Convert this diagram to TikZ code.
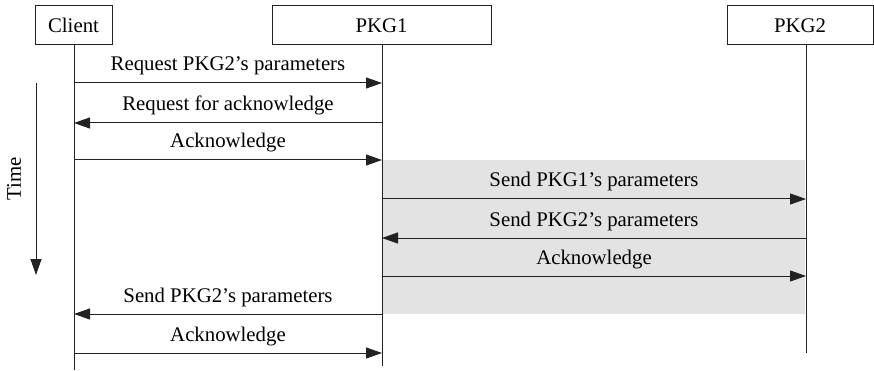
\documentclass[tikz,border=0pt]{standalone}
\usepackage{fontspec}
\setmainfont{Liberation Serif}
\usetikzlibrary{arrows.meta}
\definecolor{panelgray}{HTML}{E3E3E3}
\definecolor{ink}{HTML}{222222}
\begin{document}
\begin{tikzpicture}[x=1pt,y=-1pt,
  every node/.style={font=\fontsize{20.8}{24}\selectfont, text=black},
  actor/.style={draw=ink, line width=1pt, fill=white, inner sep=0pt},
  life/.style={draw=ink, line width=1pt},
  msg/.style={draw=ink, line width=1pt, -{Triangle[length=16pt,width=11pt]}},
  lbl/.style={inner sep=0pt, anchor=base}]
\useasboundingbox (0,0) rectangle (874,371);
% shaded region
\fill[panelgray] (382,160) rectangle (805,314);
% actor boxes
\draw[actor] (35,6) rectangle (112,45);
\node (client) at (73.5,25.5) {Client};
\draw[actor] (272,6) rectangle (491,45);
\node (pkg1) at (381.5,25.5) {PKG1};
\draw[actor] (727,6) rectangle (873,45);
\node (pkg2) at (800,25.5) {PKG2};
% lifelines
\coordinate (c0) at (74,45);   \coordinate (c1) at (74,370);
\coordinate (p0) at (382,45);  \coordinate (p1) at (382,366);
\coordinate (q0) at (806,45);  \coordinate (q1) at (806,353);
\draw[life] (c0) -- (c1);
\draw[life] (p0) -- (p1);
\draw[life] (q0) -- (q1);
% time arrow
\coordinate (t0) at (36,83); \coordinate (t1) at (36,275);
\draw[msg] (t0) -- (t1);
\node[rotate=90] (time) at (14,179) {Time};
% messages
\foreach \y/\from/\to/\txt/\cx in {
  83/74/382/{Request PKG2's parameters}/228,
  123/382/74/{Request for acknowledge}/228,
  160/74/382/{Acknowledge}/228,
  199/382/806/{Send PKG1’s parameters}/594,
  238/806/382/{Send PKG2’s parameters}/594,
  276/382/806/{Acknowledge}/594,
  314/382/74/{Send PKG2's parameters}/228,
  353/74/382/{Acknowledge}/228}{
  \coordinate (a\y) at (\from,\y);
  \coordinate (b\y) at (\to,\y);
  \draw[msg] (a\y) -- (b\y);
  \node[lbl] (l\y) at (\cx,\y-12) {\txt};
}
\end{tikzpicture}
\end{document}
